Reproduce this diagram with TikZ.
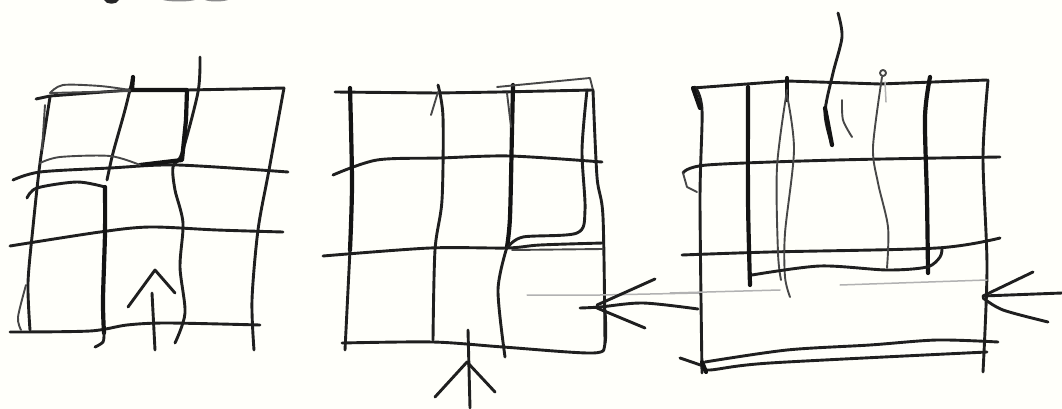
\documentclass[tikz,border=0pt]{standalone}
\tikzset{
  ink/.style={line width=2.9pt,black!88,line cap=round,line join=round},
  heavy/.style={line width=4.2pt,black!92,line cap=round,line join=round},
  thin ink/.style={line width=1.9pt,black!72,line cap=round,line join=round},
  faint/.style={line width=1.5pt,black!30,line cap=round}
}
\begin{document}
\begin{tikzpicture}[x=1pt,y=-1pt]
\useasboundingbox (0,0) rectangle (1062,409);
\fill[white!98!yellow] (0,0) rectangle (1062,409);
% cropped handwriting at the top edge
\fill[black!85] (104,0) .. controls (106,5) and (117,5) .. (119,0) -- cycle;
\fill[black!45] (163,0) .. controls (170,2) and (188,2) .. (195,0) -- cycle;
\fill[black!45] (205,0) .. controls (210,2) and (222,2) .. (228,0) -- cycle;
%
% ---- left plan ----
\draw[ink] (36,99) -- (50,96) -- (130,90) -- (187,90) -- (240,89) -- (284,88);
\draw[ink] plot[smooth] coordinates {(284,88) (269,170) (258,230) (252,300) (254,350)};
\draw[ink] plot[smooth] coordinates {(13,180) (40,172) (110,168) (177,165) (288,172)};
\draw[ink] plot[smooth] coordinates {(10,246) (100,232) (150,227) (217,230) (283,232)};
\draw[ink] plot[smooth] coordinates {(10,332) (90,331) (127,325) (167,323) (260,325)};
\draw[ink] plot[smooth] coordinates {(50,97) (40,163) (33,227) (28,283) (30,330)};
\draw[thin ink] plot[smooth] coordinates {(26,285) (18,317) (21,330)};
\draw[ink] plot[smooth] coordinates {(133,77) (125,110) (113,153) (107,180)};
\draw[heavy] (133,77) -- (132,90);
\draw[ink] plot[smooth] coordinates {(200,57) (198,92) (182,153) (173,167) (175,190) (183,223) (180,267) (185,313) (175,343)};
\draw[heavy] (130,90) -- (187,90) -- (186,120) -- (182,160) -- (140,165);
\draw[thin ink] plot[smooth] coordinates {(50,93) (63,85) (100,86) (130,90)};
\draw[thin ink] (50,93) -- (130,91);
\draw[thin ink] (45,105) -- (42,150);
\draw[thin ink] plot[smooth] coordinates {(40,163) (60,157) (110,156) (140,165)};
\draw[ink] plot[smooth] coordinates {(27,198) (37,188) (77,182) (105,187)};
\draw[heavy] plot[smooth] coordinates {(105,187) (105,233) (103,300) (104,333)};
\draw[ink] plot[smooth] coordinates {(104,333) (103,342) (95,347)};
% arrow left plan
\draw[ink] (155,350) -- (152,293);
\draw[ink] (128,307) -- (155,270) -- (175,293);
%
% ---- middle plan ----
\draw[ink] (335,92) -- (437,93) -- (500,92) -- (593,90);
\draw[ink] plot[smooth] coordinates {(333,175) (377,160) (440,158) (510,156) (602,162)};
\draw[ink] plot[smooth] coordinates {(323,256) (430,248) (507,248) (540,245) (603,243)};
\draw[ink] plot[smooth] coordinates {(342,343) (433,342) (503,347) (593,353) (605,343) (605,310)};
\draw[heavy] plot[smooth] coordinates {(350,88) (352,183) (350,250)};
\draw[ink] (350,250) -- (345,350);
\draw[ink] plot[smooth] coordinates {(438,85) (443,117) (442,200) (435,250) (433,340)};
\draw[thin ink] (438,92) -- (431,115);
\draw[heavy] plot[smooth] coordinates {(513,85) (512,130) (510,217) (507,247)};
\draw[ink] plot[smooth] coordinates {(507,247) (498,290) (505,357)};
\draw[thin ink] (497,87) -- (590,78) -- (593,90);
\draw[thin ink] (507,93) -- (511,127);
\draw[ink] plot[smooth] coordinates {(587,90) (582,150) (585,210) (577,233) (523,237) (508,247)};
\draw[ink] plot[smooth] coordinates {(593,90) (597,177) (603,217) (605,343)};
\draw[thin ink] (512,250) -- (603,249);
\draw[faint] (527,295) -- (600,295) -- (700,293);
% middle arrows
\draw[ink] plot[smooth] coordinates {(580,308) (600,307) (643,303) (698,309)};
\draw[ink] (597,305) -- (655,279);
\draw[ink] (597,308) -- (645,328);
\draw[ink] (468,330) -- (470,408);
\draw[ink] (435,397) -- (467,362) -- (495,392);
%
% ---- right plan ----
\draw[ink] (693,88) -- (787,81) -- (880,84) -- (987,80);
\draw[ink] plot[smooth] coordinates {(695,87) (702,110) (700,200) (702,373)};
\draw[heavy] (693,88) -- (700,108);
\draw[ink] plot[smooth] coordinates {(988,80) (983,157) (987,267) (983,372)};
\draw[ink] plot[smooth] coordinates {(683,173) (707,165) (837,160) (1000,157)};
\draw[thin ink] (683,173) -- (687,187) -- (697,192);
\draw[ink] plot[smooth] coordinates {(682,255) (770,252) (937,248) (1000,238)};
\draw[heavy] plot[smooth] coordinates {(748,87) (748,200) (750,285)};
\draw[heavy] (787,78) -- (787,100);
\draw[thin ink] plot[smooth] coordinates {(787,90) (777,167) (778,253) (781,280)};
\draw[thin ink] plot[smooth] coordinates {(787,95) (794,150) (785,233) (785,277) (790,297)};
\draw[heavy] plot[smooth] coordinates {(930,77) (925,117) (927,200) (928,273)};
\draw[ink] plot[smooth] coordinates {(752,275) (820,266) (887,270) (927,267) (940,257) (942,248)};
\draw[ink] plot[smooth] coordinates {(838,13) (842,37) (833,73) (825,113) (832,145)};
\draw[heavy] (825,108) -- (832,145);
\draw[thin ink] plot[smooth] coordinates {(842,100) (843,120) (852,137)};
\draw[thin ink] plot[smooth] coordinates {(882,77) (873,147) (878,183) (888,227) (887,268)};
\draw[thin ink] (883,73) circle[radius=3];
\draw[faint] (885,82) -- (886,102);
\draw[faint] (670,293) -- (780,290);
\draw[faint] (840,285) -- (987,280);
\draw[ink] plot[smooth] coordinates {(705,362) (787,350) (870,345) (937,340) (998,342)};
\draw[ink] plot[smooth] coordinates {(680,358) (703,366) (710,370) (770,363) (987,352)};
\draw[heavy] (702,362) -- (706,372);
% right arrow
\draw[ink] (983,296) -- (1062,293);
\draw[ink] (983,296) -- (1033,272);
\draw[ink] plot[smooth] coordinates {(983,298) (1003,310) (1048,322)};
\end{tikzpicture}
\end{document}
